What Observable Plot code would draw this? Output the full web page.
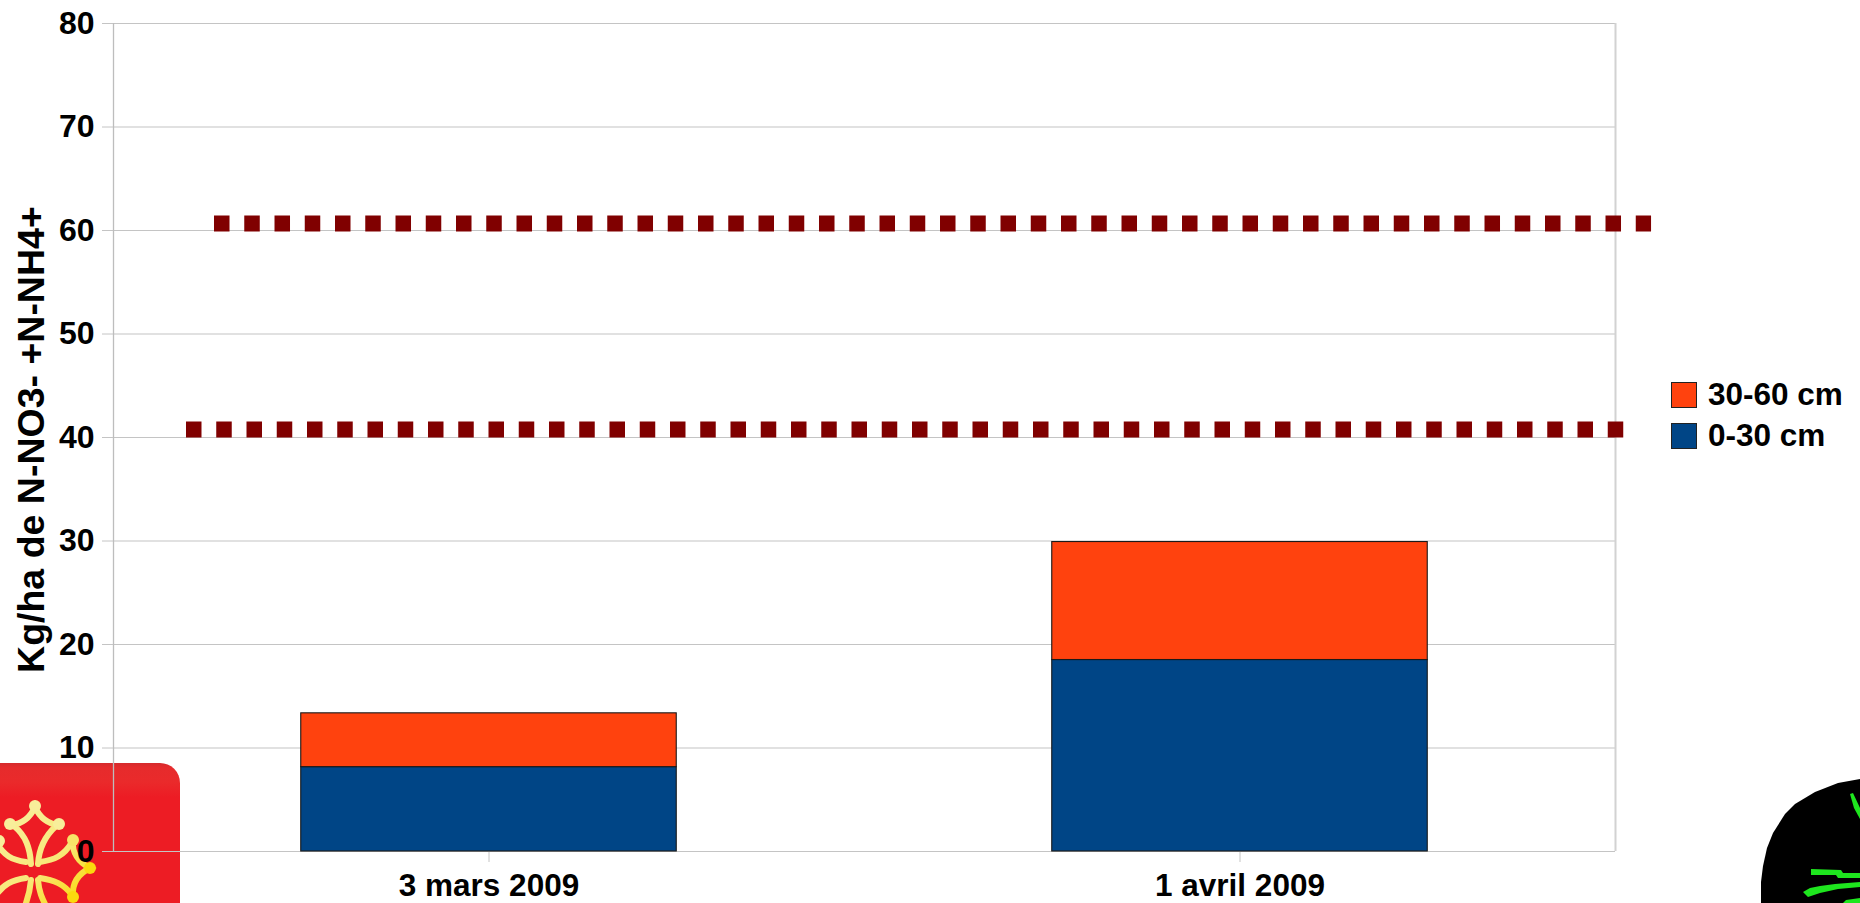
<!DOCTYPE html>
<html>
<head>
<meta charset="utf-8">
<script src="https://cdn.jsdelivr.net/npm/d3@7"></script>
<script src="https://cdn.jsdelivr.net/npm/@observablehq/plot@0.6"></script>
<style>
html,body{margin:0;padding:0;background:#fff;width:1860px;height:903px;overflow:hidden;font-family:"Liberation Sans",Arial,sans-serif}
#wrap{position:relative;width:1860px;height:903px}
#deco{position:absolute;left:0;top:0;z-index:0}
#chart{position:absolute;left:0;top:0;z-index:1}
#legend{position:absolute;left:1671px;top:374px;z-index:2;font-weight:bold;font-size:31.5px;color:#000}
.it{display:flex;align-items:center;height:41px;white-space:nowrap}
.sw{width:24px;height:24px;border:1px solid #222;box-sizing:content-box;margin-right:11px}
</style>
</head>
<body>
<div id="wrap">
<svg id="deco" width="1860" height="903" viewBox="0 0 1860 903">
  <defs>
    <linearGradient id="red" x1="0" y1="0" x2="0" y2="1">
      <stop offset="0" stop-color="#d42a2c"/><stop offset=".025" stop-color="#e62b2c"/><stop offset=".1" stop-color="#ea2a2b"/><stop offset=".18" stop-color="#ed1c24"/><stop offset="1" stop-color="#ed1c24"/>
    </linearGradient>
    <linearGradient id="gold" gradientUnits="userSpaceOnUse" x1="10" y1="810" x2="90" y2="900">
      <stop offset="0" stop-color="#f8ef9c"/><stop offset=".55" stop-color="#f8e878"/><stop offset="1" stop-color="#fbd600"/>
    </linearGradient>
  </defs>
  <rect x="-30" y="763" width="210" height="190" rx="20" fill="url(#red)"/>
  <g fill="none" stroke="url(#gold)" stroke-width="6" stroke-linecap="round">
    <path d="M31 864C30 848 26 836 14 826"/><path d="M38 864C39 848 45 836 56 826"/>
    <path d="M11 825C22 824 30 818 35 807C40 818 48 824 59 825"/>
    <path d="M40 862C54 860 64 856 72 842"/><path d="M40 878C54 880 64 884 72 895"/>
    <path d="M73 841C72 852 78 862 90 868C78 874 72 884 73 896"/>
    <path d="M26 862C12 860 4 856 -4 842"/><path d="M26 878C12 880 4 884 -4 895"/>
    <path d="M31 880C30 892 28 898 25 906"/><path d="M38 880C39 892 42 898 46 906"/>
  </g>
  <g fill="#f8ee9a">
    <circle cx="35" cy="806" r="6"/><circle cx="10" cy="824" r="6"/><circle cx="59" cy="824" r="6"/>
    <circle cx="73" cy="840" r="6" fill="#f8e468"/><circle cx="90" cy="868" r="6" fill="#fbd90e"/><circle cx="73" cy="897" r="6" fill="#fbd90e"/>
    <circle cx="-1" cy="841" r="6"/>
  </g>
  <path d="M1860 779L1838 783 1815 792 1795 804 1785 814 1773 833 1767 848 1763 866 1761 882 1761 903 1860 903Z" fill="#000"/>
  <g fill="#1ee61e">
    <path d="M1850 794L1853 793 1860 808 1860 819 1854 808Z"/>
    <path d="M1811 869L1841 870 1843 873 1860 873 1860 878 1838 878 1836 875 1811 875Z"/>
    <path d="M1803 892L1810 888 1820 886 1835 884 1860 882 1860 887 1838 889 1820 893 1808 897Z"/>
    <path d="M1843 903L1846 900 1860 898 1860 903Z"/>
  </g>
</svg>
<div id="chart"></div>
<div id="legend"></div>
</div>
<script>
const dates = ["3 mars 2009", "1 avril 2009"];
const depthLow = [8.15, 18.5];
const depthHigh = [5.2, 11.4];
const seriesNames = ["30-60 cm", "0-30 cm"];
const seriesColors = ["#ff420e", "#004586"];
const yTicks = [0, 10, 20, 30, 40, 50, 60, 70, 80];
const yTitle = "Kg/ha de N-NO3- +N-NH4+";
const thresholds = [60.68, 40.77];
const thresholdStart = [0.1345, 0.0972];
const thresholdEnd = [2.048, 2.012];
const yTitleAt = 39.8;

const rows = dates.flatMap((d, i) => [
  {i, y1: 0, y2: depthLow[i], fill: seriesColors[1]},
  {i, y1: depthLow[i], y2: depthLow[i] + depthHigh[i], fill: seriesColors[0]}
]);
const limits = thresholds.map((v, k) => ({v, a: thresholdStart[k], b: thresholdEnd[k]}));

const plot = Plot.plot({
  width: 1860, height: 903,
  marginTop: 23, marginBottom: 52, marginLeft: 113, marginRight: 245,
  style: {background: "transparent", fontFamily: '"Liberation Sans",Arial,sans-serif', fontWeight: "bold", color: "#000", overflow: "visible"},
  x: {domain: [0, 2], axis: null},
  y: {domain: [0, 80], axis: null},
  marks: [
    Plot.ruleY(yTicks, {stroke: "#c4c4c4", strokeWidth: 1.2}),
    Plot.ruleX([0], {stroke: "#bdbdbd", strokeWidth: 1.3}),
    Plot.ruleX([2], {stroke: "#d2d2d2", strokeWidth: 2}),
    Plot.axisY({ticks: yTicks, tickSize: 11, tickPadding: 8, stroke: "#c4c4c4", fontSize: 32, label: null, tickFormat: d => d, fill: "#000"}),
    Plot.axisX({ticks: dates.map((d, i) => i + 0.5), tickSize: 11, tickPadding: 11, stroke: "#c4c4c4", fontSize: 31.5, label: null, tickFormat: v => dates[v - 0.5], fill: "#000"}),
    Plot.rect(rows, {x1: d => d.i + 0.25, x2: d => d.i + 0.75, y1: "y1", y2: "y2", fill: "fill", stroke: "#1a1a1a", strokeWidth: 1.1}),
    Plot.ruleY(limits, {y: "v", x1: "a", x2: "b", stroke: "#800000", strokeWidth: 16, strokeDasharray: "15.5 14.75", clip: false}),
    Plot.text([yTitle], {y: yTitleAt, frameAnchor: "left", textAnchor: "middle", dx: -82, rotate: -90, fontSize: 37.5, fontWeight: "bold", fill: "#000"})
  ]
});
document.getElementById("chart").append(plot);

const lg = document.getElementById("legend");
seriesNames.forEach((n, i) => {
  const it = document.createElement("div"); it.className = "it";
  const sw = document.createElement("span"); sw.className = "sw"; sw.style.background = seriesColors[i];
  const t = document.createElement("span"); t.textContent = n;
  it.append(sw, t); lg.append(it);
});
</script>
</body>
</html>
